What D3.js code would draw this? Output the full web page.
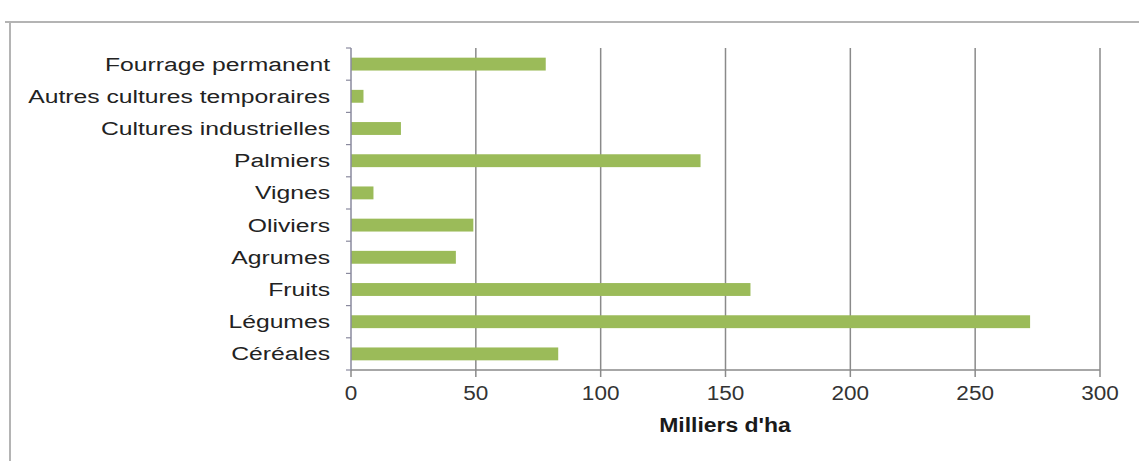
<!DOCTYPE html>
<html>
<head>
<meta charset="utf-8">
<script src="https://cdn.jsdelivr.net/npm/d3@7"></script>
<style>
  html, body { margin: 0; padding: 0; background: #fff; }
  svg { display: block; }
  text { font-family: Arial, "Liberation Sans", sans-serif; }
</style>
</head>
<body>
<svg id="chart" width="1139" height="461"></svg>
<script>
// Superficie par type de culture (milliers d'hectares)
const categories = [
  "Fourrage permanent",
  "Autres cultures temporaires",
  "Cultures industrielles",
  "Palmiers",
  "Vignes",
  "Oliviers",
  "Agrumes",
  "Fruits",
  "Légumes",
  "Céréales"
];
const values = [78, 5, 20, 140, 9, 49, 42, 160, 272, 83];
const xTicks = [0, 50, 100, 150, 200, 250, 300];
const xTitle = "Milliers d'ha";

const svg = d3.select("#chart");

// frame around the chart area
svg.append("line").attr("x1", 5).attr("x2", 1139).attr("y1", 22).attr("y2", 22)
  .attr("stroke", "#b4b4b4").attr("stroke-width", 2);
svg.append("line").attr("x1", 10).attr("x2", 10).attr("y1", 22).attr("y2", 461)
  .attr("stroke", "#b4b4b4").attr("stroke-width", 2);

const x = d3.scaleLinear().domain([0, 300]).range([351, 1100]);
const y = d3.scaleBand().domain(categories).range([48, 370]).paddingInner(0.6).paddingOuter(0.3);
const yEdges = d3.scaleBand().domain(categories).range([48, 370]).padding(0);

// vertical gridlines
svg.append("g").selectAll("line").data(xTicks.slice(1)).join("line")
  .attr("x1", d => x(d)).attr("x2", d => x(d))
  .attr("y1", 48).attr("y2", 370)
  .attr("stroke", "#8a8a8a").attr("stroke-width", 1.5);

// bars
svg.append("g").selectAll("rect").data(categories).join("rect")
  .attr("x", x(0))
  .attr("y", d => y(d))
  .attr("width", (d, i) => x(values[i]) - x(0))
  .attr("height", y.bandwidth())
  .attr("fill", "#9bbb59");

// x axis line and ticks
svg.append("line").attr("x1", x(0)).attr("x2", x(300)).attr("y1", 370).attr("y2", 370)
  .attr("stroke", "#8a8a8a").attr("stroke-width", 1.5);
svg.append("g").selectAll("line").data(xTicks).join("line")
  .attr("x1", d => x(d)).attr("x2", d => x(d))
  .attr("y1", 370).attr("y2", 377)
  .attr("stroke", "#8a8a8a").attr("stroke-width", 1.5);

// y axis line and ticks at category boundaries
svg.append("line").attr("x1", x(0)).attr("x2", x(0)).attr("y1", 48).attr("y2", 370)
  .attr("stroke", "#8a8a9e").attr("stroke-width", 1.5);
const edges = categories.map(c => yEdges(c)).concat([370]);
svg.append("g").selectAll("line").data(edges).join("line")
  .attr("x1", x(0) - 5).attr("x2", x(0))
  .attr("y1", d => d).attr("y2", d => d)
  .attr("stroke", "#8a8a9e").attr("stroke-width", 1.2);

// category labels
svg.append("g").selectAll("text").data(categories).join("text")
  .attr("transform", d => `translate(330,${y(d) + y.bandwidth() / 2 + 6.5}) scale(1.3,1)`)
  .attr("text-anchor", "end")
  .attr("font-size", 19)
  .attr("fill", "#222")
  .text(d => d);

// tick labels
svg.append("g").selectAll("text").data(xTicks).join("text")
  .attr("transform", d => `translate(${x(d)},400) scale(1.1,1)`)
  .attr("text-anchor", "middle")
  .attr("font-size", 20.5)
  .attr("fill", "#333")
  .text(d => d);

// axis title
svg.append("text")
  .attr("transform", `translate(725,432) scale(1.12,1)`)
  .attr("text-anchor", "middle")
  .attr("font-size", 20.5)
  .attr("font-weight", "bold")
  .attr("fill", "#1a1a1a")
  .text(xTitle);
</script>
</body>
</html>
